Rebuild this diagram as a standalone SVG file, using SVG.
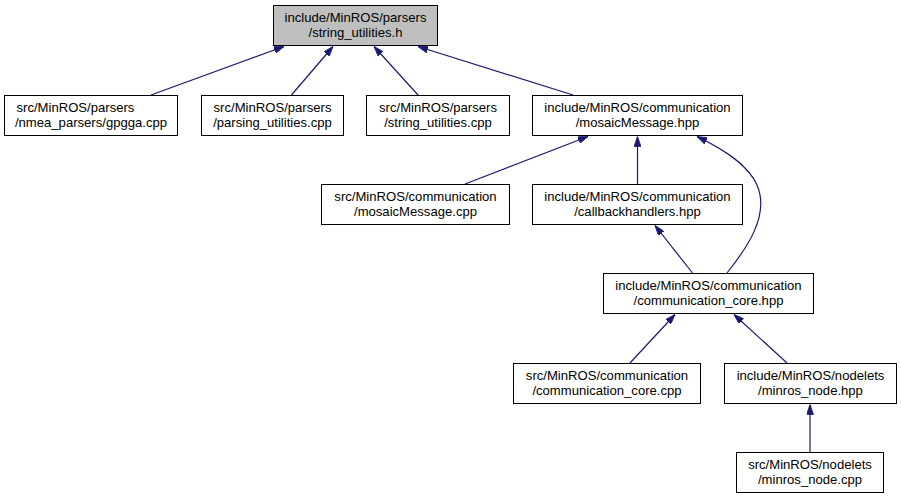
<svg xmlns="http://www.w3.org/2000/svg" width="901" height="499" viewBox="0 0 901 499">
<style>
.box{fill:#ffffff;stroke:#000000;stroke-width:1}
.root{fill:#bfbfbf;stroke:#000000;stroke-width:1}
text{font-family:"Liberation Sans",Arial,sans-serif;font-size:13.1px;fill:#000000;text-anchor:middle}
.edge{fill:none;stroke:#191970;stroke-width:1.2;marker-end:url(#arr)}
</style>
<defs>
<marker id="arr" viewBox="0 0 10 7" refX="10" refY="3.5" markerWidth="10" markerHeight="7" markerUnits="userSpaceOnUse" orient="auto">
<path d="M0,0 L10,3.5 L0,7 Z" fill="#191970" stroke="#191970" stroke-width="0.8"/>
</marker>
</defs>
<rect width="901" height="499" fill="#ffffff"/>
<g id="connectors">
<path class="edge" d="M151,95 L284,46.5"/>
<path class="edge" d="M291.5,95 L333,46.5"/>
<path class="edge" d="M418,95 L374,46.5"/>
<path class="edge" d="M573,95 L418,46.5"/>
<path class="edge" d="M465,184 L588,136.5"/>
<path class="edge" d="M637.5,184 L637.5,136.5"/>
<path class="edge" d="M727,273 C747,248 770,215 757,185 C748,165 725,150 697,136.5"/>
<path class="edge" d="M692.5,273 L655,225.5"/>
<path class="edge" d="M630,363 L675,314.5"/>
<path class="edge" d="M787,363 L734,314.5"/>
<path class="edge" d="M810,452 L810,404.5"/>
</g>
<g id="n_root">
<rect class="root" x="273.5" y="5.5" width="164" height="40"/>
<text x="355.5" y="22">include/MinROS/parsers</text>
<text x="355.5" y="37">/string_utilities.h</text>
</g>
<g id="n_gpgga">
<rect class="box" x="4.5" y="95.5" width="173" height="40"/>
<text x="16.5" y="112" style="text-anchor:start">src/MinROS/parsers</text>
<text x="91" y="127">/nmea_parsers/gpgga.cpp</text>
</g>
<g id="n_parsing">
<rect class="box" x="201.5" y="95.5" width="142" height="40"/>
<text x="272.5" y="112">src/MinROS/parsers</text>
<text x="272.5" y="127">/parsing_utilities.cpp</text>
</g>
<g id="n_strcpp">
<rect class="box" x="366.5" y="95.5" width="143" height="40"/>
<text x="438" y="112">src/MinROS/parsers</text>
<text x="438" y="127">/string_utilities.cpp</text>
</g>
<g id="n_mosaichpp">
<rect class="box" x="532.5" y="95.5" width="210" height="40"/>
<text x="637.5" y="112">include/MinROS/communication</text>
<text x="637.5" y="127">/mosaicMessage.hpp</text>
</g>
<g id="n_mosaiccpp">
<rect class="box" x="321.5" y="184.5" width="188" height="40"/>
<text x="415.5" y="201">src/MinROS/communication</text>
<text x="415.5" y="216">/mosaicMessage.cpp</text>
</g>
<g id="n_callback">
<rect class="box" x="532.5" y="184.5" width="210" height="40"/>
<text x="637.5" y="201">include/MinROS/communication</text>
<text x="637.5" y="216">/callbackhandlers.hpp</text>
</g>
<g id="n_corehpp">
<rect class="box" x="603.5" y="273.5" width="210" height="40"/>
<text x="708.5" y="290">include/MinROS/communication</text>
<text x="708.5" y="305">/communication_core.hpp</text>
</g>
<g id="n_corecpp">
<rect class="box" x="513.5" y="363.5" width="187" height="40"/>
<text x="607" y="380">src/MinROS/communication</text>
<text x="607" y="395">/communication_core.cpp</text>
</g>
<g id="n_nodehpp">
<rect class="box" x="724.5" y="363.5" width="172" height="40"/>
<text x="810.5" y="380">include/MinROS/nodelets</text>
<text x="810.5" y="395">/minros_node.hpp</text>
</g>
<g id="n_nodecpp">
<rect class="box" x="736.5" y="452.5" width="147" height="40"/>
<text x="810" y="469">src/MinROS/nodelets</text>
<text x="810" y="484">/minros_node.cpp</text>
</g>
</svg>
